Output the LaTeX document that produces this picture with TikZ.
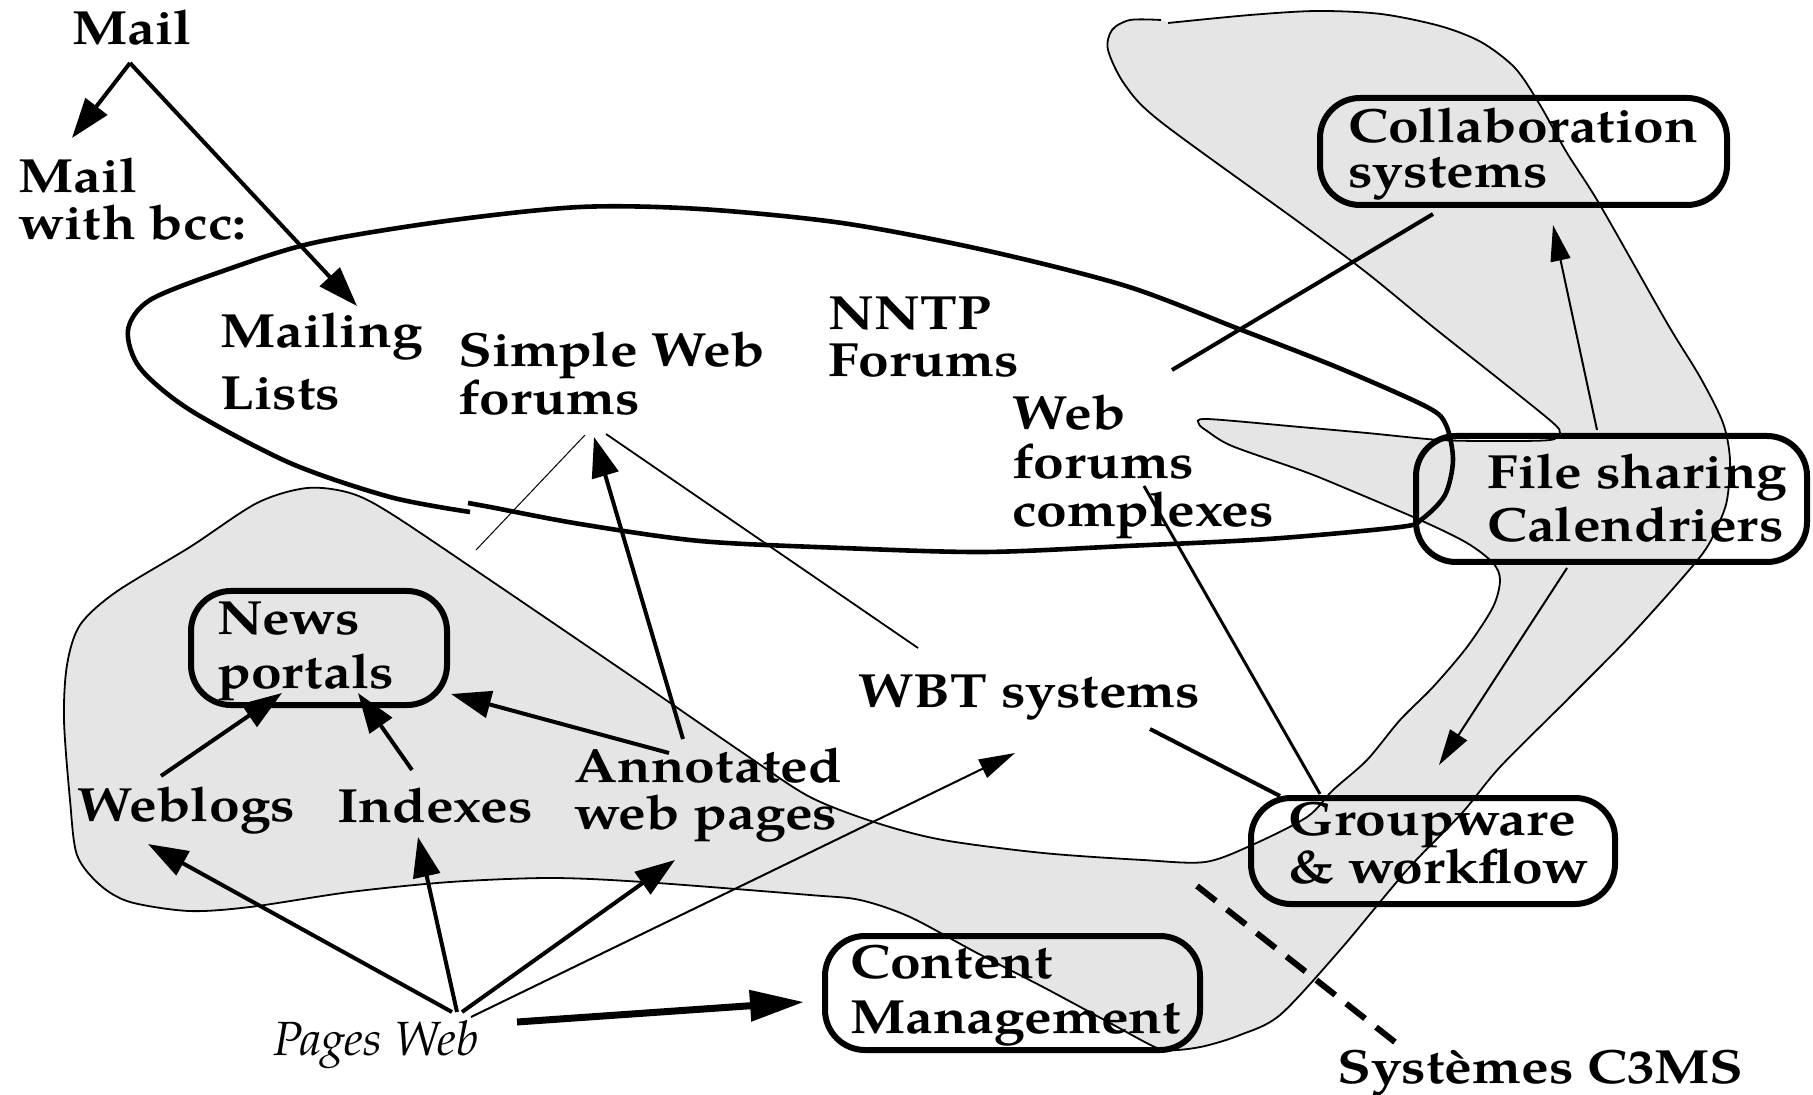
\documentclass[tikz,border=0pt]{standalone}
\usepackage{fontspec}
\newfontfamily\lblfont{TeX Gyre Pagella}[FakeStretch=1.15]
\newfontfamily\pwfont{TeX Gyre Pagella}
\usetikzlibrary{arrows.meta}
\definecolor{blobgrey}{RGB}{229,229,229}
\begin{document}
\begin{tikzpicture}[x=0.5pt,y=-0.5pt,
  lbl/.style={font=\lblfont\bfseries\fontsize{24pt}{#1}\selectfont, inner sep=0pt, anchor=base west, align=left},
  lbl/.default=24pt,
  pwlbl/.style={font=\pwfont\itshape\fontsize{24pt}{24pt}\selectfont, inner sep=0pt, anchor=base west},
  roundbox/.style={draw, line width=3pt, rounded corners=20pt, inner sep=0pt},
  arrM/.style={line width=2pt, -{Triangle[length=20pt,width=13.5pt]}},
  arrT/.style={line width=1pt, -{Triangle[length=18pt,width=10pt]}},
  arrB/.style={line width=3.5pt, -{Triangle[length=27pt,width=15pt]}},
  lineM/.style={line width=2pt},
  lineT/.style={line width=0.9pt},
  hair/.style={line width=0.5pt},
  dashline/.style={line width=3pt, dash pattern=on 12pt off 7pt},
  loopline/.style={line width=2.3pt},
  blobline/.style={line width=0.9pt}]

\fill[white] (0,0) rectangle (1813,1095);
\useasboundingbox (0,0) rectangle (1813,1095);

% grey region
\def\blobpts{(1168,23) (1250,15) (1317,11) (1381,14) (1440,26) (1481,42) (1515,68) (1540,105) (1567,153) (1600,205) (1667,323) (1700,377) (1723,423) (1730,460) (1727,500) (1718,525) (1700,557) (1633,633) (1567,700) (1500,767) (1462,813) (1407,870) (1340,950) (1280,1015) (1240,1035) (1205,1046) (1177,1050) (1157,1048) (1110,1023) (1043,987) (977,953) (910,917) (860,900) (810,895) (643,882) (550,878) (450,882) (350,892) (250,907) (189,911) (130,902) (100,885) (77,855) (70,800) (64,720) (67,665) (80,625) (116,592) (190,547) (257,503) (307,488) (350,493) (390,513) (490,580) (631,676) (746,755) (810,797) (877,823) (943,840) (1043,853) (1143,860) (1205,862) (1252,845) (1307,817) (1333,790) (1367,760) (1400,720) (1433,687) (1467,647) (1493,607) (1500,580) (1493,563) (1467,543) (1420,520) (1333,483) (1300,470) (1232,446) (1207,431) (1199,424) (1207,419) (1300,427) (1367,433) (1440,440) (1500,441) (1550,440) (1560,433) (1552,422) (1500,380) (1433,327) (1367,273) (1300,223) (1161,122) (1125,85) (1108,50) (1112,30) (1130,20) (1161,20)}
\path[fill=blobgrey] plot[smooth, tension=0.5] coordinates {\blobpts} -- cycle;
\draw[blobline] plot[smooth, tension=0.5] coordinates {\blobpts};

% big loop
\draw[loopline] plot[smooth, tension=0.5] coordinates {(468,503) (490,507) (580,524) (700,541) (842,548) (984,552) (1126,546) (1268,539) (1400,527) (1422,519) (1445,495) (1453,460) (1446,425) (1427,407) (1339,368) (1239,329) (1126,286) (984,250) (842,223) (700,209) (580,207) (446,221) (313,243) (223,271) (150,300) (128,330) (140,368) (190,410) (290,463) (390,497) (470,512)};

% boxes
\node[roundbox, minimum width=203.5pt, minimum height=53.5pt] (collab) at (1523.5,151.5) {};
\node[roundbox, minimum width=195.5pt, minimum height=63pt] (filesh) at (1611.5,499) {};
\node[roundbox, minimum width=182pt, minimum height=53pt] (groupw) at (1433,851) {};
\node[roundbox, minimum width=187.5pt, minimum height=57pt] (content) at (1012.5,993) {};
\node[roundbox, minimum width=128pt, minimum height=57pt] (news) at (319,648) {};

% labels (anchor = baseline of the last line)
\node[lbl] (mail) at (72,45) {Mail};
\node[lbl=23.5pt] (bcc) at (18,240) {Mail\\with bcc:};
\node[lbl=31pt] (mailing) at (220,410) {Mailing\\Lists};
\node[lbl] (simpleweb) at (458,415) {Simple Web\\forums};
\node[lbl=23.5pt] (nntp) at (828,377) {NNTP\\Forums};
\node[lbl=24.25pt] (webforums) at (1012,527) {Web\\forums\\complexes};
\node[lbl=22.5pt] (collabtxt) at (1348,188) {Collaboration\\systems};
\node[lbl=26.5pt] (fileshtxt) at (1487,542) {File sharing\\Calendriers};
\node[lbl=24pt] (groupwtxt) at (1288,883) {Groupware\\\& workflow};
\node[lbl=27.5pt] (contenttxt) at (850,1033) {Content\\Management};
\node[lbl=27pt] (newstxt) at (217,688) {News\\portals};
\node[lbl] (weblogs) at (77,821) {Weblogs};
\node[lbl] (indexes) at (337,822) {Indexes};
\node[lbl=23.5pt] (annotated) at (574,829) {Annotated\\web pages};
\node[lbl] (wbt) at (858,707) {WBT systems};
\node[pwlbl] (pagesweb) at (273,1055) {Pages Web};
\node[lbl] (c3ms) at (1337,1083) {Systèmes C3MS};

% connector end points
\coordinate (mail-s) at (130,63);
\coordinate (bcc-n) at (72,138);
\coordinate (mailing-n) at (357,306);
\coordinate (sw-l) at (585,435);
\coordinate (sw-r) at (606,434);
\coordinate (sw-in) at (594,437);
\coordinate (sw-end) at (476,550);
\coordinate (wbt-nw) at (918,648);
\coordinate (ann-n) at (683,739);
\coordinate (ann-w) at (669,753);
\coordinate (news-r) at (451,694);
\coordinate (news-b1) at (282,693);
\coordinate (news-b2) at (358,693);
\coordinate (weblogs-n) at (161,776);
\coordinate (indexes-n) at (412,770);
\coordinate (pw-1) at (452,1012);
\coordinate (pw-2) at (457,1012);
\coordinate (pw-3) at (462,1012);
\coordinate (pw-4) at (471,1017);
\coordinate (pw-5) at (517,1022);
\coordinate (weblogs-s) at (148,844);
\coordinate (indexes-s) at (418,837);
\coordinate (ann-s) at (675,860);
\coordinate (wbt-sw) at (1015,753);
\coordinate (content-w) at (804,1002);
\coordinate (collab-s) at (1433,214);
\coordinate (nntp-e) at (1172,370);
\coordinate (filesh-n) at (1597,430);
\coordinate (collab-in) at (1553,225);
\coordinate (filesh-s) at (1567,568);
\coordinate (groupw-in) at (1439,765);
\coordinate (wf-s) at (1144,486);
\coordinate (groupw-n) at (1320,794);
\coordinate (wbt-se) at (1150,729);
\coordinate (groupw-nw) at (1280,796);
\coordinate (dash-a) at (1197,886);
\coordinate (c3ms-n) at (1405,1050);

% connectors
\draw[arrM] (mail-s) -- (bcc-n);
\draw[arrM] (mail-s) -- (mailing-n);
\draw[hair] (sw-l) -- (sw-end);
\draw[lineT] (sw-r) -- (wbt-nw);
\draw[arrM] (ann-n) -- (sw-in);
\draw[arrM] (ann-w) -- (news-r);
\draw[arrM] (weblogs-n) -- (news-b1);
\draw[arrM] (indexes-n) -- (news-b2);
\draw[arrM] (pw-1) -- (weblogs-s);
\draw[arrM] (pw-2) -- (indexes-s);
\draw[arrM] (pw-3) -- (ann-s);
\draw[arrT] (pw-4) -- (wbt-sw);
\draw[arrB] (pw-5) -- (content-w);
\draw[lineM] (collab-s) -- (nntp-e);
\draw[arrT] (filesh-n) -- (collab-in);
\draw[arrT] (filesh-s) -- (groupw-in);
\draw[line width=1.5pt] (wf-s) -- (groupw-n);
\draw[lineM] (wbt-se) -- (groupw-nw);
\draw[dashline] (dash-a) -- (c3ms-n);
\end{tikzpicture}
\end{document}
